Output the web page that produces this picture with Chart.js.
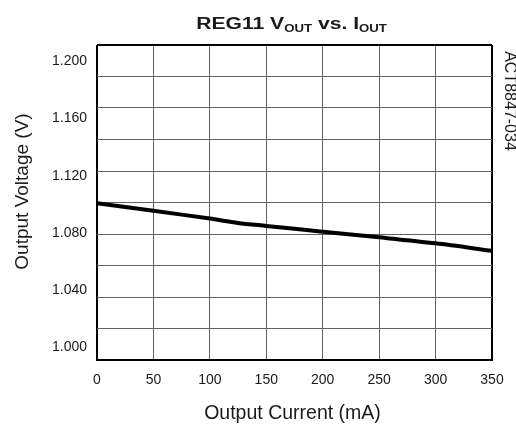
<!DOCTYPE html>
<html>
<head>
<meta charset="utf-8">
<script src="https://cdn.jsdelivr.net/npm/chart.js@4.4.1/dist/chart.umd.min.js"></script>
<style>
  html, body { margin: 0; padding: 0; background: #fff; }
  #wrap { width: 516px; height: 428px; }
</style>
</head>
<body>
<div id="wrap"><canvas id="chart" width="516" height="428"></canvas></div>
<script>
// data
const currents = [0, 50, 100, 125, 150, 200, 250, 300, 350];
const voltages = [1.1008, 1.0956, 1.0901, 1.0871, 1.0850, 1.0809, 1.0770, 1.0728, 1.0676];

const voltTicks = [1.000, 1.040, 1.080, 1.120, 1.160, 1.200];
const currentTicks = [0, 50, 100, 150, 200, 250, 300, 350];
const gridSteps = [0, 1, 2, 3, 4, 5, 6, 7, 8, 9, 10];

// the printed voltage labels don't line up with the grid in the original
const V_MIN = 0.9913;
const V_MAX = 1.2114;

const FONT = '"Liberation Sans", Arial, sans-serif';
const TEXT = '#1a1a1a';
const GRID = '#626262';

function edgeColor(first, last) {
  return ctx => (ctx.tick && (ctx.tick.value === first || ctx.tick.value === last)) ? '#000' : GRID;
}
function edgeWidth(first, last) {
  return ctx => (ctx.tick && (ctx.tick.value === first || ctx.tick.value === last)) ? 2 : 1;
}

const textPlugin = {
  id: 'sheetText',
  afterDraw(chart) {
    const ctx = chart.ctx;
    ctx.save();
    ctx.fillStyle = TEXT;

    // title with subscripts, stretched like the original
    const main = 'bold 16px ' + FONT;
    const sub = 'bold 10px ' + FONT;
    const parts = [['REG11 V', main, 0], ['OUT', sub, 3], [' vs. I', main, 0], ['OUT', sub, 3]];
    let total = 0;
    parts.forEach(p => { ctx.font = p[1]; total += ctx.measureText(p[0]).width; });
    ctx.save();
    ctx.translate(291.5, 29);
    ctx.scale(1.32, 1);
    ctx.textAlign = 'left';
    ctx.textBaseline = 'alphabetic';
    let x = -total / 2;
    parts.forEach(p => {
      ctx.font = p[1];
      ctx.fillText(p[0], x, p[2]);
      x += ctx.measureText(p[0]).width;
    });
    ctx.restore();

    ctx.textAlign = 'center';
    ctx.textBaseline = 'middle';

    ctx.save();
    ctx.translate(23, 191.5);
    ctx.rotate(-Math.PI / 2);
    ctx.font = '19px ' + FONT;
    ctx.fillText('Output Voltage (V)', 0, 0);
    ctx.restore();

    ctx.font = '19.5px ' + FONT;
    ctx.fillText('Output Current (mA)', 292.5, 414);

    ctx.save();
    ctx.translate(509, 101);
    ctx.rotate(Math.PI / 2);
    ctx.font = '16px ' + FONT;
    ctx.fillText('ACT8847-034', 0, 0);
    ctx.restore();

    ctx.restore();
  }
};

const points = currents.map((c, i) => ({ x: c, y: voltages[i] }));

new Chart(document.getElementById('chart'), {
  type: 'line',
  data: {
    datasets: [{
      data: points,
      yAxisID: 'y',
      borderColor: '#000',
      borderWidth: 4,
      pointRadius: 0,
      tension: 0.3,
      fill: false
    }]
  },
  options: {
    responsive: false,
    animation: false,
    layout: { padding: { top: 45, right: 24, left: 0, bottom: 0 } },
    plugins: { legend: { display: false }, tooltip: { enabled: false } },
    scales: {
      x: {
        type: 'linear',
        min: 0,
        max: 350,
        afterBuildTicks: s => { s.ticks = currentTicks.map(v => ({ value: v })); },
        afterFit: s => { s.height = 68; },
        ticks: { font: { family: FONT, size: 14 }, color: TEXT, padding: 12, maxRotation: 0 },
        grid: { color: edgeColor(0, 350), lineWidth: edgeWidth(0, 350), drawTicks: false },
        border: { color: '#000', width: 2 }
      },
      yGrid: {
        type: 'linear',
        position: 'left',
        min: 0,
        max: 10,
        afterBuildTicks: s => { s.ticks = gridSteps.map(v => ({ value: v })); },
        afterFit: s => { s.width = 0; },
        ticks: { display: false },
        grid: { color: edgeColor(0, 10), lineWidth: edgeWidth(0, 10), drawTicks: false },
        border: { display: false }
      },
      y: {
        type: 'linear',
        position: 'left',
        min: V_MIN,
        max: V_MAX,
        afterBuildTicks: s => { s.ticks = voltTicks.map(v => ({ value: v })); },
        afterFit: s => { s.width = 97; },
        ticks: {
          font: { family: FONT, size: 14 },
          color: TEXT,
          padding: 10,
          callback: v => Number(v).toFixed(3)
        },
        grid: { display: false, drawTicks: false },
        border: { display: false }
      }
    }
  },
  plugins: [textPlugin]
});
</script>
</body>
</html>
